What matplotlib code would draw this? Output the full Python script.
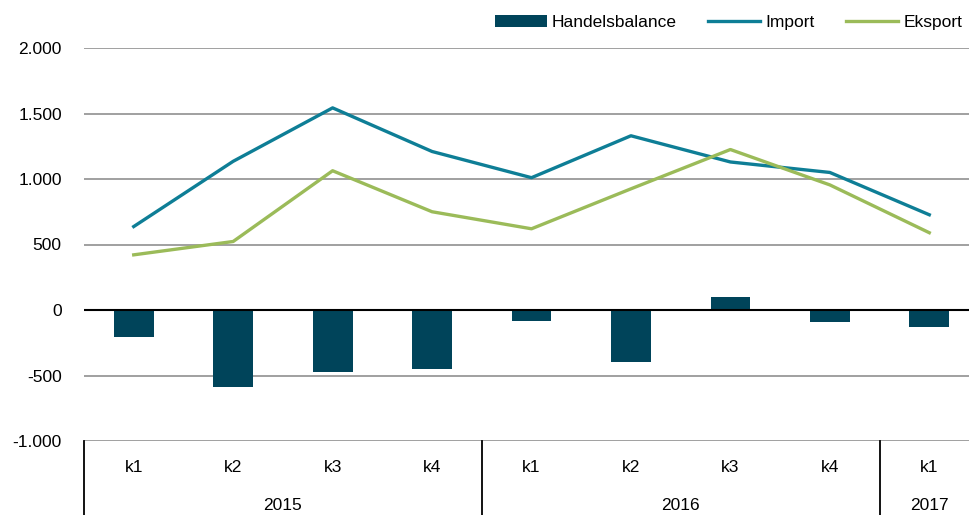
import numpy as np
import matplotlib.pyplot as plt
from matplotlib.ticker import FuncFormatter

kvartaler = ['k1', 'k2', 'k3', 'k4', 'k1', 'k2', 'k3', 'k4', 'k1']
aar = ['2015', '2016', '2017']
aar_antal = [4, 4, 1]

handelsbalance = [-207, -590, -475, -452, -84, -398, 99, -92, -130]
import_ = [637, 1135, 1543, 1210, 1010, 1330, 1130, 1050, 727]
eksport = [421, 523, 1063, 750, 620, 925, 1225, 955, 590]

plt.rcParams['font.family'] = ['Liberation Sans', 'DejaVu Sans']

fig = plt.figure(figsize=(9.69, 5.15), dpi=100)
ax = fig.add_axes([84 / 969, 74 / 515, 895 / 969, 393 / 515])

x = np.arange(len(kvartaler))
b = ax.bar(x, handelsbalance, width=0.4, color='#00445A', label='Handelsbalance', zorder=3)
l1, = ax.plot(x, import_, color='#0E7E96', lw=2.4, label='Import', zorder=4)
l2, = ax.plot(x, eksport, color='#9BBB59', lw=2.4, label='Eksport', zorder=4)

ax.set_xlim(-0.5, len(kvartaler) - 0.5)
ax.set_ylim(-1000, 2000)
ax.set_yticks(np.arange(-1000, 2001, 500))
ax.yaxis.set_major_formatter(FuncFormatter(lambda v, p: f'{v:,.0f}'.replace(',', '.')))
ax.grid(axis='y', color='#A0A0A0', lw=1.4, zorder=0)
ax.axhline(0, color='black', lw=1.5, zorder=5)
for s in ax.spines.values():
    s.set_visible(False)
ax.tick_params(axis='y', length=0, pad=16, labelsize=12.5)

ax.set_xticks(x)
ax.set_xticklabels(kvartaler)
ax.tick_params(axis='x', length=0, pad=14, labelsize=12.5)

# gruppe-akse med år
trans = ax.get_xaxis_transform()
bund = -74 / 393
grænser = np.concatenate([[0], np.cumsum(aar_antal)]) - 0.5
for g in grænser:
    ax.plot([g, g], [0, bund], transform=trans, color='black', lw=1.3, clip_on=False)
for i, a in enumerate(aar):
    midt = (grænser[i] + grænser[i + 1]) / 2
    ax.text(midt, -64 / 393, a, transform=trans, ha='center', va='center', fontsize=12.5)

ax.legend([b, l1, l2], ['Handelsbalance', 'Import', 'Eksport'],
          loc='upper right', bbox_to_anchor=(885 / 895, 1 + 40 / 393), ncol=3, frameon=False,
          fontsize=12.5, handlelength=3.0, columnspacing=1.8, handletextpad=0.3,
          borderaxespad=0)

fig.savefig('out.png', dpi=100)
